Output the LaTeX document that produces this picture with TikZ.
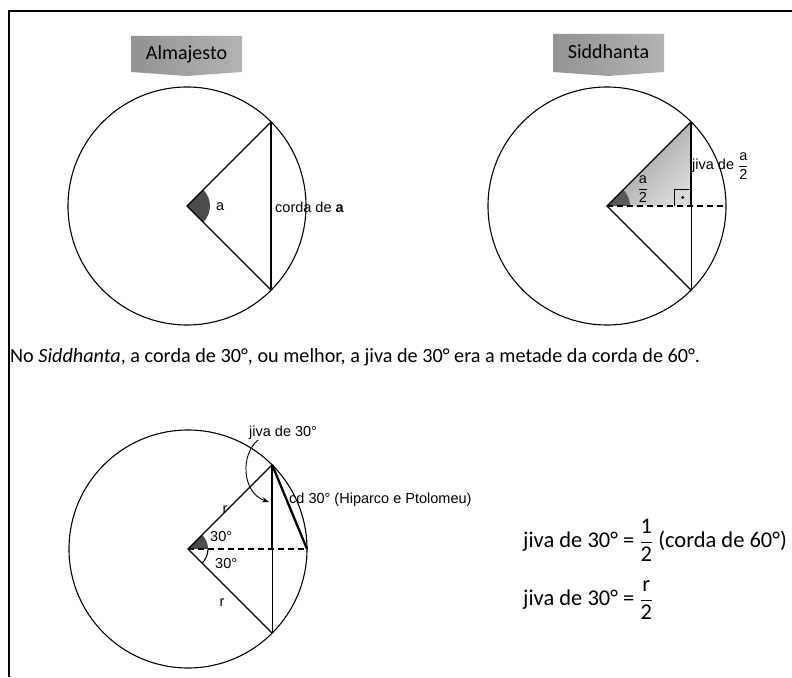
\documentclass[tikz,border=0pt]{standalone}
\usepackage{amsmath}
\usepackage{fontspec}
\setmainfont{Liberation Sans}
\newfontfamily\myriad{Carlito}
\usepackage{tikz}
\usetikzlibrary{arrows.meta}

\begin{document}
\begin{tikzpicture}[x=1pt,y=1pt,
  circ/.style={line width=1.1pt},
  chord/.style={line width=2.3pt},
  wedge/.style={fill=black!70},
  lbl/.style={font=\fontsize{14.5}{16}\selectfont, inner sep=0pt},
  titletext/.style={font=\myriad\fontsize{20}{22}\selectfont, inner sep=0pt, anchor=base},
  formula/.style={font=\myriad\fontsize{22.5}{26}\selectfont, inner sep=0pt, anchor=west}]
  \useasboundingbox (0,0) rectangle (792,677);
  % Frame
  \draw[line width=2pt] (9,0) -- (9,666) -- (792,666);

  % Almajesto
  \shade[left color=gray!85, right color=gray!60] (131,641) -- (242,641) -- (242,605) -- (186.5,601) -- (131,605) -- cycle;
  \node[titletext] (almag) at (186.5,617) {Almajesto};
  \coordinate (C1) at (187,471);
  \coordinate (T1) at ([shift={(45:119)}]C1);
  \coordinate (B1) at ([shift={(-45:119)}]C1);
  \draw[circ] (C1) circle[radius=119];
  \fill[wedge] (C1) -- ([shift={(-45:23)}]C1) arc[start angle=-45, end angle=45, radius=23] -- cycle;
  \draw[circ] (T1) -- (C1) -- (B1);
  \draw[chord] (T1) -- (B1);
  \node[lbl, anchor=west] (angA) at (216,470) {a};
  \node[lbl, anchor=west] (cordA) at (275,470) {corda de \textbf{a}};

  % Siddhanta
  \shade[left color=gray!85, right color=gray!60] (553,643) -- (664,643) -- (664,605) -- (608.5,601) -- (553,605) -- cycle;
  \node[titletext] (siddh) at (608.5,618) {Siddhanta};
  \coordinate (C2) at (607,471);
  \coordinate (T2) at ([shift={(45:119)}]C2);
  \coordinate (B2) at ([shift={(-45:119)}]C2);
  \coordinate (F2) at (T2 |- C2);
  \coordinate (R2) at ([shift={(0:119)}]C2);
  \shade[top color=gray!85, bottom color=gray!30, shading angle=45] (C2) -- (T2) -- (F2) -- cycle;
  \fill[black!65] (C2) -- ([shift={(0:23)}]C2) arc[start angle=0, end angle=45, radius=23] -- cycle;
  \draw[circ] (C2) circle[radius=119];
  \draw[circ] (T2) -- (C2) -- (B2);
  \draw[circ] (F2) -- (B2);
  \draw[chord] (T2) -- (F2);
  \draw[circ, dash pattern=on 6pt off 4pt] (C2) -- (R2);
  \draw[line width=0.9pt] ([shift={(-17,0)}]F2) |- ([shift={(0,17)}]F2);
  \fill ([shift={(-8.5,8.5)}]F2) circle[radius=1.6];
  \node[lbl] (meioA) at (643,488) {$\dfrac{\mbox{a}}{\mbox{2}}$};
  \node[lbl, anchor=west] (jivaA) at (692,511) {jiva de $\dfrac{\mbox{a}}{\mbox{2}}$};

  % Frase
  \node[font=\myriad\fontsize{20.2}{22}\selectfont, inner sep=0pt, anchor=base west] (frase) at (10,314)
    {No \textit{Siddhanta}, a corda de 30°, ou melhor, a jiva de 30° era a metade da corda de 60°.};

  % Jiva de 30
  \coordinate (C3) at (188,128);
  \coordinate (T3) at ([shift={(45:119)}]C3);
  \coordinate (B3) at ([shift={(-45:119)}]C3);
  \coordinate (F3) at (T3 |- C3);
  \coordinate (R3) at ([shift={(0:119)}]C3);
  \draw[circ] (C3) circle[radius=119];
  \fill[wedge] (C3) -- ([shift={(0:20)}]C3) arc[start angle=0, end angle=45, radius=20] -- cycle;
  \draw[circ] ([shift={(-45:20)}]C3) arc[start angle=-45, end angle=0, radius=20];
  \draw[circ] (T3) -- (C3) -- (B3);
  \draw[circ] (F3) -- (B3);
  \draw[circ, dash pattern=on 6pt off 4pt] (C3) -- (R3);
  \draw[chord] (T3) -- (F3);
  \draw[chord] (T3) -- (R3);
  \node[lbl, anchor=west] (ang1) at (210,140) {30°};
  \node[lbl, anchor=west] (ang2) at (215,113) {30°};
  \node[lbl] (raio1) at (225,167) {r};
  \node[lbl] (raio2) at (222,74) {r};
  \node[lbl, anchor=west] (jiva30) at (249,244) {jiva de 30°};
  \node[lbl, anchor=west] (cd30) at (289,177) {cd 30° (Hiparco e Ptolomeu)};
  \coordinate (jvtip) at (269,175);
  \draw[line width=0.9pt, -{Stealth[length=7pt,width=5pt]}] ([xshift=9pt]jiva30.south west) .. controls (240,222) and (242,184) .. (jvtip);

  % Formulas
  \node[formula] (eq1) at (523,137) {jiva de 30° = $\dfrac{\mbox{1}}{\mbox{2}}$ (corda de 60°)};
  \node[formula] (eq2) at (523,77) {jiva de 30° = $\dfrac{\mbox{r}}{\mbox{2}}$};
\end{tikzpicture}
\end{document}
